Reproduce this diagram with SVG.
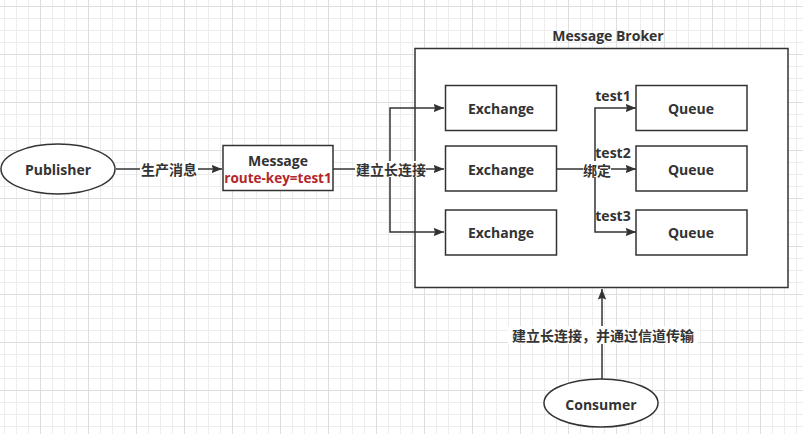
<svg xmlns="http://www.w3.org/2000/svg" width="803" height="434" viewBox="0 0 803 434">
  <style>
    .t { font-family: "Open Sans", "Noto Sans CJK SC", "Liberation Sans", sans-serif; font-weight: bold; font-size: 14px; fill: #333333; text-anchor: middle; dominant-baseline: central; }
    .cn { font-family: "Noto Sans CJK SC", sans-serif; font-weight: bold; }
    .red { fill: #b3262a; font-size: 13.5px; }
    .box { fill: #ffffff; stroke: #333333; stroke-width: 1.5; }
    .ln { fill: none; stroke: #333333; stroke-width: 1.5; }
    .lbl { fill: #ffffff; }
  </style>
  <defs>
    <pattern id="grid" patternUnits="userSpaceOnUse" x="4" y="6" width="48" height="48">
      <path d="M12.5 0V48M24.5 0V48M0.5 0V48M0 12.5H48M0 24.5H48M0 36.5H48" stroke="#ececec" stroke-width="1" fill="none"/>
      <path d="M36.5 0V48M0 0.5H48" stroke="#dedede" stroke-width="1" fill="none"/>
    </pattern>
    <marker id="arr" viewBox="0 0 10 10" refX="10" refY="5" markerWidth="7" markerHeight="7" markerUnits="strokeWidth" orient="auto">
      <path d="M0 1L10 5L0 9L1.5 5Z" fill="#333333"/>
    </marker>
  </defs>
  <rect width="803" height="434" fill="#ffffff"/>
  <rect width="803" height="434" fill="url(#grid)"/>

  <g id="broker">
    <rect class="box" x="415" y="48.5" width="373" height="239"/>
    <text class="t" x="608" y="35">Message Broker</text>
  </g>

  <g id="connectors">
    <path class="ln" d="M116 169H222" marker-end="url(#arr)"/>
    <path class="ln" d="M333 169H444" marker-end="url(#arr)"/>
    <path class="ln" d="M390 169V108H444" marker-end="url(#arr)"/>
    <path class="ln" d="M390 169V232H444" marker-end="url(#arr)"/>
    <path class="ln" d="M556 169H636" marker-end="url(#arr)"/>
    <path class="ln" d="M595 169V108H636" marker-end="url(#arr)"/>
    <path class="ln" d="M595 169V232H636" marker-end="url(#arr)"/>
    <path class="ln" d="M602 379V289" marker-end="url(#arr)"/>
    <rect class="lbl" x="140" y="161" width="58" height="16"/>
    <text class="t cn" x="169" y="169">生产消息</text>
    <rect class="lbl" x="355" y="161" width="71" height="16"/>
    <text class="t cn" x="391" y="169">建立长连接</text>
    <rect class="lbl" x="583" y="161" width="28" height="16"/>
    <text class="t cn" x="597" y="170">绑定</text>
    <text class="t" x="613" y="95">test1</text>
    <text class="t" x="613" y="152">test2</text>
    <text class="t" x="613" y="215">test3</text>
    <rect class="lbl" x="508" y="326" width="190" height="18"/>
    <text class="t cn" x="603" y="335">建立长连接，并通过信道传输</text>
  </g>

  <g id="publisher">
    <ellipse class="box" cx="58" cy="169" rx="57" ry="25"/>
    <text class="t" x="58" y="169">Publisher</text>
  </g>

  <g id="message">
    <rect class="box" x="223" y="145.5" width="110" height="45"/>
    <text class="t" x="278" y="160">Message</text>
    <text class="t red" x="278" y="178">route-key=test1</text>
  </g>

  <g id="exchange1">
    <rect class="box" x="445.5" y="85.5" width="111" height="45"/>
    <text class="t" x="501" y="108">Exchange</text>
  </g>
  <g id="exchange2">
    <rect class="box" x="445.5" y="146" width="111" height="45"/>
    <text class="t" x="501" y="169">Exchange</text>
  </g>
  <g id="exchange3">
    <rect class="box" x="445.5" y="210" width="111" height="45"/>
    <text class="t" x="501" y="232">Exchange</text>
  </g>

  <g id="queue1">
    <rect class="box" x="636" y="85.5" width="111" height="45"/>
    <text class="t" x="691" y="108">Queue</text>
  </g>
  <g id="queue2">
    <rect class="box" x="636" y="146" width="111" height="45"/>
    <text class="t" x="691" y="169">Queue</text>
  </g>
  <g id="queue3">
    <rect class="box" x="636" y="210" width="111" height="45"/>
    <text class="t" x="691" y="232">Queue</text>
  </g>

  <g id="consumer">
    <ellipse class="box" cx="601" cy="403" rx="57" ry="24"/>
    <text class="t" x="601" y="404">Consumer</text>
  </g>
</svg>
